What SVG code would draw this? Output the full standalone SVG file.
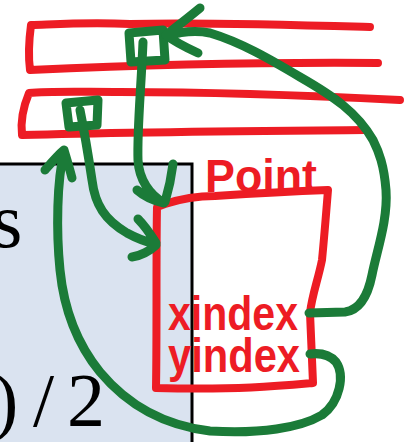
<svg xmlns="http://www.w3.org/2000/svg" width="413" height="442" viewBox="0 0 413 442">
<style>
.red{fill:none;stroke:#ED1C24;stroke-width:8;stroke-linecap:round;stroke-linejoin:round}
.grn{fill:none;stroke:#1B7B38;stroke-width:9;stroke-linecap:round;stroke-linejoin:round}
.hand{fill:#ED1C24;font-family:"Liberation Sans",Arial,sans-serif;font-weight:bold}
.serif{fill:#000;font-family:"Liberation Serif","Times New Roman",serif}
</style>
<rect width="413" height="442" fill="#fff"/>
<g id="blue-box">
<rect x="-10" y="164" width="202" height="300" fill="#DAE3F0" stroke="#000" stroke-width="3"/>
<text class="serif" x="-8" y="247" font-size="78">s</text>
<text class="serif" x="-7 33 67" y="426" font-size="76">)/2</text>
</g>
<g id="bar1">
<path class="red" d="M370,27 C300,25 200,22 130,24 C90,22 60,24 31,25 C29,40 28,55 30,70 C120,66 250,62 378,63"/>
</g>
<g id="bar2">
<path class="red" d="M400,100 C300,95 200,92 120,92 C80,92 50,91 29,93 C24,105 20,118 22,135 C120,132 250,131 365,130"/>
</g>
<g id="point">
<path class="red" d="M165,204 C180,199 195,196 215,196 C260,193 300,191 328,190 C326,215 324,240 322,260 C318,280 312,295 310,313 C311,335 312,360 313,383 C280,386 240,390 156,388 C157,330 156,260 157,207 L165,204"/>
<text class="hand" x="205" y="192" font-size="46" textLength="112" lengthAdjust="spacingAndGlyphs">Point</text>
<text class="hand" x="168" y="330" font-size="48" textLength="130" lengthAdjust="spacingAndGlyphs">xindex</text>
<text class="hand" x="168" y="372" font-size="48" textLength="132" lengthAdjust="spacingAndGlyphs">yindex</text>
</g>
<g id="connectors">
<path class="grn" d="M129,33 L163,30 L165,60 L131,62 Z"/>
<path class="grn" d="M143,42 C141,90 137,130 138,160 C139,180 150,195 164,203 M173,164 C171,180 168,192 165,202 M137,190 C145,197 155,201 164,203"/>
<path class="grn" d="M66,103 L98,100 L97,125 L69,127 Z"/>
<path class="grn" d="M80,110 C85,135 89,160 92,180 C95,205 105,220 127,233 C138,239 147,242 155,244 M138,219 C145,226 151,235 156,243 M132,257 C140,256 150,251 156,245"/>
<path class="grn" d="M64,152 C57,180 56,230 60,270 C64,310 78,345 100,372 C125,402 160,425 210,431 C260,434 300,428 322,415 C340,402 345,375 336,362 C329,354 318,353 310,354 M45,170 C52,162 58,155 64,150 C67,160 70,170 72,178"/>
<path class="grn" d="M309,313 L345,312 C360,310 368,295 372,275 C377,250 388,220 386,190 C384,165 379,152 373,140 C357,112 333,96 300,77 C268,58 240,42 210,33 C195,30 180,32 167,36 M200,8 C188,18 175,28 166,35 C175,42 187,48 198,53"/>
</g>
</svg>
